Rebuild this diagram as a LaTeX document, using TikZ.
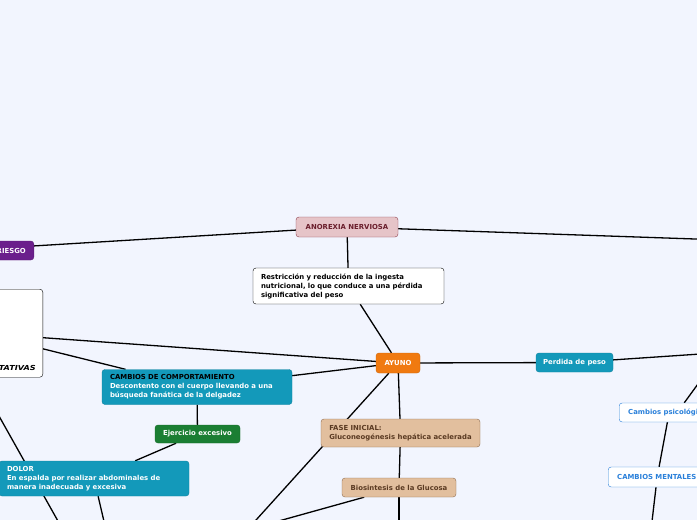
\documentclass[tikz,border=0pt]{standalone}
\usepackage{fontspec}
\setmainfont{DejaVu Sans}
\usetikzlibrary{positioning, backgrounds}
\definecolor{paper}{HTML}{F2F5FE}
\definecolor{mmteal}{HTML}{1399BA}
\definecolor{mmgreen}{HTML}{1B7E33}
\definecolor{mmorange}{HTML}{F07A10}
\definecolor{mmpurple}{HTML}{6B1F8C}
\definecolor{rosefill}{HTML}{E6C4C8}
\definecolor{rosedraw}{HTML}{8C3D4B}
\definecolor{rosetext}{HTML}{6A1E2C}
\definecolor{tanfill}{HTML}{E2BF9E}
\definecolor{tandraw}{HTML}{8F6B4E}
\definecolor{tantext}{HTML}{5A3A22}
\definecolor{mmblue}{HTML}{2A80DA}

\begin{document}
\begin{tikzpicture}[
    x=1pt, y=-1pt,
    box/.style={rounded corners=3pt, inner sep=0pt,
                font=\fontsize{6.9}{9}\selectfont\bfseries},
    tealbox/.style={box, fill=mmteal, draw=mmteal!85!black, text=white},
    tanbox/.style={box, fill=tanfill, draw=tandraw, text=tantext},
    bluebox/.style={box, fill=white, draw=mmblue, text=mmblue},
    link/.style={line width=1.3pt, black},
]
\useasboundingbox (0,0) rectangle (697,520);
\clip (0,0) rectangle (697,520);

% central topic and its first ring
\node[box, fill=rosefill, draw=rosedraw, text=rosetext,
      minimum width=102, minimum height=20] (anorexia) at (347,227) {ANOREXIA NERVIOSA};
\node[box, fill=mmpurple, draw=mmpurple!85!black, text=white,
      minimum width=152, minimum height=19, text width=136, align=right,
      anchor=east] (riesgo) at (34,250.5) {RIESGO};
\node[box, fill=white, draw=black, minimum width=191, minimum height=36,
      text width=175, align=left] (restric) at (348.5,286)
     {Restricción y reducción de la ingesta\\nutricional, lo que conduce a una pérdida\\significativa del peso};

% ayuno branch
\node[box, fill=mmorange, draw=mmorange!85!black, text=white,
      minimum width=44, minimum height=20] (ayuno) at (398,363) {AYUNO};
\node[box, fill=white, draw=black, minimum width=126, minimum height=88,
      anchor=north east] (expect) at (43,289) {};
\node[font=\fontsize{6.9}{9}\selectfont\bfseries\itshape, inner sep=0pt,
      xscale=1.18, transform shape, anchor=base east] (expectlbl) at (36,370) {TATIVAS};
\node[tealbox, minimum width=190, minimum height=35, text width=174,
      align=left] (comport) at (197,387)
     {{\color{black}CAMBIOS DE COMPORTAMIENTO}\\Descontento con el cuerpo llevando a una\\búsqueda fanática de la delgadez};
\node[box, fill=mmgreen, draw=mmgreen!85!black, text=white,
      minimum width=85, minimum height=18] (ejercicio) at (197.5,434) {Ejercicio excesivo};
\node[tealbox, minimum width=190, minimum height=35, text width=174,
      align=left] (dolor) at (94,478.5)
     {DOLOR\\En espalda por realizar abdominales de\\manera inadecuada y excesiva};
\node[tanbox, minimum width=159, minimum height=28, align=left] (fase) at (400.5,433)
     {FASE INICIAL:\\Gluconeogénesis hepática acelerada};
\node[tanbox, minimum width=114, minimum height=19] (biosin) at (399,487.5) {Biosintesis de la Glucosa};

% perdida de peso branch
\node[tealbox, minimum width=77, minimum height=19] (perdida) at (574.5,362.5) {Perdida de peso};
\node[bluebox, minimum width=116, minimum height=19, text width=98,
      align=left, anchor=west] (psico) at (619,412.5) {Cambios psicológicos};
\node[bluebox, minimum width=98, minimum height=20, text width=80,
      align=left, anchor=west] (mentales) at (608,477) {CAMBIOS MENTALES};

% ends that leave the picture
\coordinate (farE) at (730,240.2);
\coordinate (farPerd) at (730,352);
\coordinate (farPsico) at (730,340);
\coordinate (farDolor) at (-10,400);
\coordinate (lowDolorA) at (63,530);
\coordinate (lowDolorB) at (106,530);
\coordinate (lowAyuno) at (247,530);
\coordinate (lowBiosin) at (250,529);
\coordinate (lowBiosinB) at (399,530);
\coordinate (lowMent) at (651,530);

\begin{scope}[on background layer]
  \fill[paper] (-20,-20) rectangle (720,540);
  \draw[link] (riesgo) -- (anorexia);
  \draw[link] (anorexia) -- (farE);
  \draw[link] (anorexia) -- (restric);
  \draw[link] (restric) -- (ayuno);
  \draw[link] (expect) -- (ayuno);
  \draw[link] (expect) -- (comport);
  \draw[link] (comport) -- (ayuno);
  \draw[link] (comport) -- (ejercicio);
  \draw[link] (ejercicio) -- (dolor);
  \draw[link] (farDolor) -- (lowDolorA);
  \draw[link] (dolor) -- (lowDolorB);
  \draw[link] (ayuno) -- (lowAyuno);
  \draw[link] (ayuno) -- (fase);
  \draw[link] (fase) -- (biosin);
  \draw[link] (biosin) -- (lowBiosin);
  \draw[link] (biosin) -- (lowBiosinB);
  \draw[link] (ayuno) -- (perdida);
  \draw[link] (perdida) -- (farPerd);
  \draw[link] (farPsico) -- (psico);
  \draw[link] ([xshift=-8pt]psico.center) -- (mentales);
  \draw[link] (mentales) -- (lowMent);
\end{scope}
\end{tikzpicture}
\end{document}
